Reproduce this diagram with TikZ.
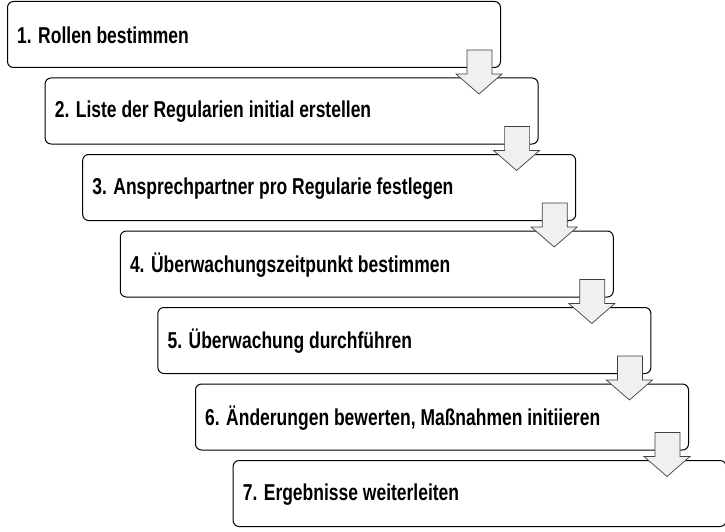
\documentclass[tikz,border=0pt]{standalone}
\usepackage{fontspec}
\setmainfont{Liberation Sans}[FakeStretch=0.76]
\begin{document}
\begin{tikzpicture}[x=1pt,y=-1pt,
  stepbox/.style={draw=black,line width=1pt,rounded corners=6pt,fill=white,minimum width=493pt,minimum height=66pt,anchor=north west,inner sep=0pt},
  steptext/.style={anchor=west,inner sep=0pt,font=\bfseries\fontsize{23}{26}\selectfont},
  arr/.style={draw=black!75,line width=0.7pt,fill=black!6}]
\useasboundingbox (0,0) rectangle (725,532);
\foreach \i/\t in {1/{1. Rollen bestimmen},2/{2. Liste der Regularien initial erstellen},3/{3. Ansprechpartner pro Regularie festlegen},4/{4. Überwachungszeitpunkt bestimmen},5/{5. Überwachung durchführen},6/{6. Änderungen bewerten, Maßnahmen initiieren},7/{7. Ergebnisse weiterleiten}}{
  \pgfmathsetmacro{\xx}{7+37.6*(\i-1)}
  \pgfmathsetmacro{\yy}{1+76.5*(\i-1)}
  \node[stepbox] (b\i) at (\xx,\yy) {};
  \node[steptext] (t\i) at ([xshift=10pt,yshift=-1pt]b\i.west) {\t};
}
\foreach \i in {1,...,6}{
  \path (b\i.south east) coordinate (c\i);
  \draw[arr] ([shift={(-34,-18)}]c\i) -- ([shift={(-9,-18)}]c\i) -- ([shift={(-9,6)}]c\i) -- ([shift={(1,6)}]c\i) -- ([shift={(-22,26)}]c\i) -- ([shift={(-45,6)}]c\i) -- ([shift={(-34,6)}]c\i) -- cycle;
}
\end{tikzpicture}
\end{document}
